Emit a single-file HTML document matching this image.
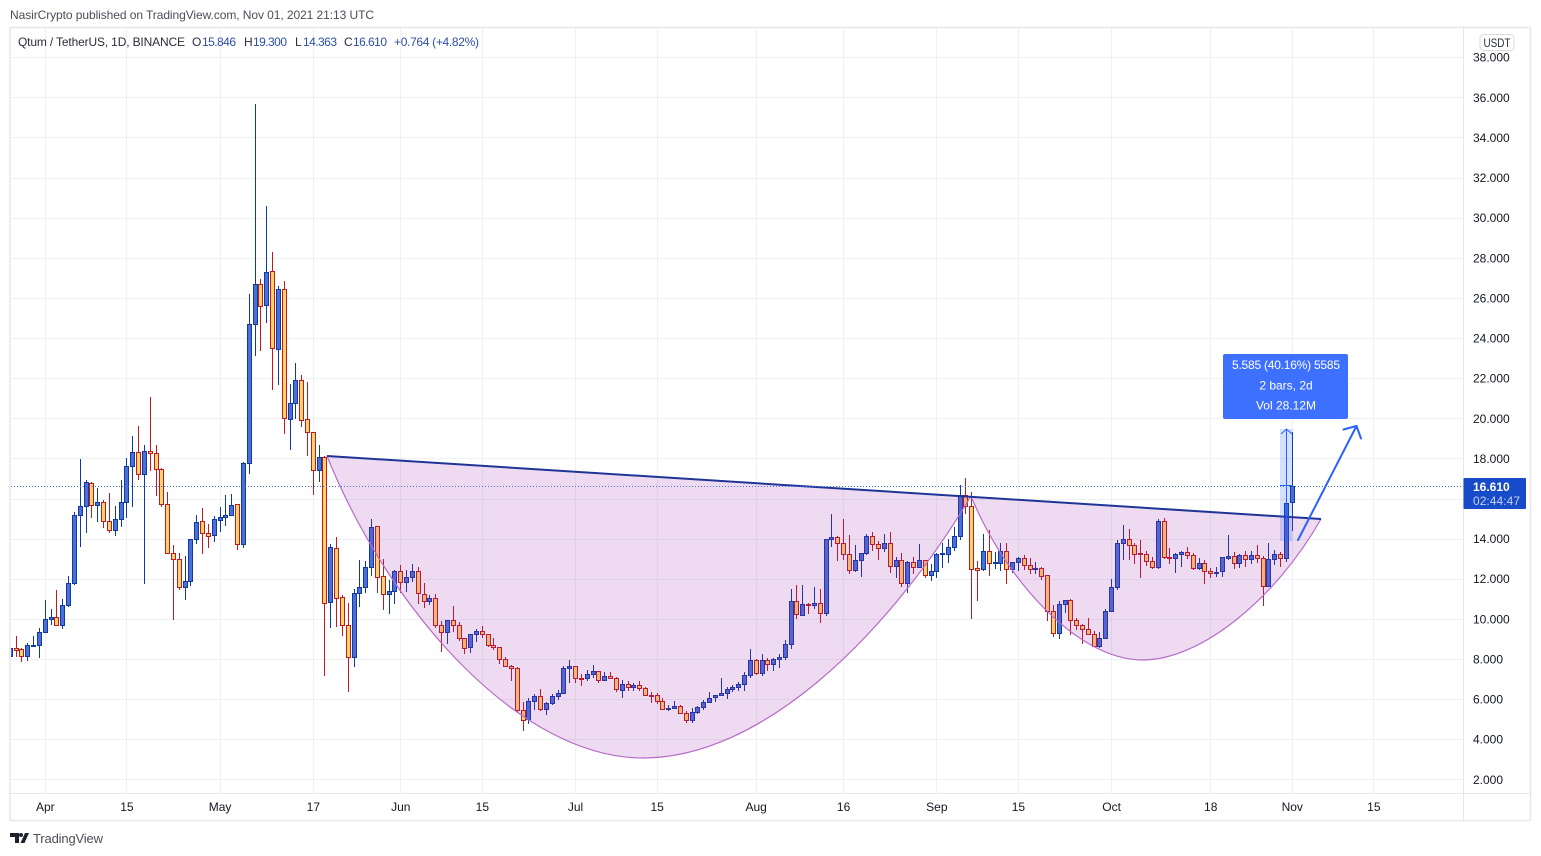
<!DOCTYPE html>
<html>
<head>
<meta charset="utf-8">
<title>QTUM/USDT chart</title>
<style>
html,body{margin:0;padding:0;background:#fff;width:1541px;height:856px;overflow:hidden}
svg{display:block}
text{font-family:"Liberation Sans",sans-serif;font-size:12px;fill:#131722}
</style>
</head>
<body>
<svg id="chart" xmlns="http://www.w3.org/2000/svg" width="1541" height="856" viewBox="0 0 1541 856">
  <defs>
    <clipPath id="paneClip"><rect x="11" y="28" width="1452" height="765"/></clipPath>
  </defs>
  <text x="10" y="19" textLength="364" lengthAdjust="spacing" style="fill:#4a4e59">NasirCrypto published on TradingView.com, Nov 01, 2021 21:13 UTC</text>
  <g id="grid"></g>
  <g id="candles" clip-path="url(#paneClip)"></g>

  <g>
    <path d="M327 456 C390 612 520 758 643 758 C760 758 885 640 971 496 L327 456 Z" fill="rgba(156,39,176,0.17)"/>
    <path d="M971 496 C1003 575 1075 660 1143 660 C1200 660 1275 600 1321 519 L971 496 Z" fill="rgba(156,39,176,0.17)"/>
    <path d="M327 456 C390 612 520 758 643 758 C760 758 885 640 971 496" fill="none" stroke="#b76bc8" stroke-width="1.2"/>
    <path d="M971 496 C1003 575 1075 660 1143 660 C1200 660 1275 600 1321 519" fill="none" stroke="#b76bc8" stroke-width="1.2"/>
    <line x1="327" y1="456" x2="1321" y2="519" stroke="#1f3596" stroke-width="2"/>
  </g>

  <g>
    <rect x="1280" y="429" width="12.5" height="112" fill="rgba(41,98,255,0.2)"/>
    <line x1="1286.5" y1="541" x2="1286.5" y2="429" stroke="#2962ff" stroke-width="1"/>
    <path d="M1281 434 L1286.5 429 L1292 434" fill="none" stroke="#2962ff" stroke-width="1"/>
    <line x1="1280" y1="485.5" x2="1292" y2="485.5" stroke="#2962ff" stroke-width="1"/>
    <rect x="1223" y="354" width="125" height="65" rx="2" fill="#3e70ff"/>
    <text x="1232" y="369" textLength="108" lengthAdjust="spacing" style="fill:#fff">5.585 (40.16%) 5585</text>
    <text x="1286" y="389.500" text-anchor="middle" style="fill:#fff">2 bars, 2d</text>
    <text x="1286" y="409.500" text-anchor="middle" style="fill:#fff">Vol 28.12M</text>
  </g>

  <g stroke="#2962ff" stroke-width="2" fill="none" stroke-linecap="round">
    <line x1="1298" y1="540" x2="1356.500" y2="426"/>
    <path d="M1343.500 429.500 L1356.500 426 L1361 438.500"/>
  </g>

  <g fill="none" stroke="#e6e8ef">
    <rect x="10" y="27.500" width="1520.500" height="793" stroke-width="1.500"/>
    <line x1="1463.500" y1="27" x2="1463.500" y2="821" stroke-width="1"/>
    <line x1="10" y1="793.500" x2="1531" y2="793.500" stroke-width="1"/>
  </g>

  <g id="priceLabels"></g>
  <g id="timeLabels"></g>

  <line id="lastPriceLine" x1="11" x2="1463" stroke="#3f6fe0" stroke-width="1" stroke-dasharray="1 2"/>
  <g>
    <rect x="1463.500" y="478" width="62.500" height="31" rx="1" fill="#174bc9"/>
    <text x="1473" y="491" style="fill:#fff;font-weight:bold">16.610</text>
    <text x="1473" y="505" textLength="47" lengthAdjust="spacing" style="fill:#c3d2f5">02:44:47</text>
  </g>

  <g>
    <rect x="1480" y="34.500" width="34" height="16" rx="4" fill="#fff" stroke="#d9dbe2"/>
    <text x="1483.500" y="47" textLength="27" lengthAdjust="spacingAndGlyphs" style="fill:#2a2e39">USDT</text>
  </g>

  <g>
    <text x="18" y="46" textLength="167" lengthAdjust="spacing" style="fill:#2a2e39">Qtum / TetherUS, 1D, BINANCE</text>
    <text x="192" y="46" style="fill:#2a2e39">O</text>
    <text x="202" y="46" textLength="34" lengthAdjust="spacing" style="fill:#2c4fa8">15.846</text>
    <text x="244" y="46" style="fill:#2a2e39">H</text>
    <text x="253" y="46" textLength="34" lengthAdjust="spacing" style="fill:#2c4fa8">19.300</text>
    <text x="295" y="46" style="fill:#2a2e39">L</text>
    <text x="303" y="46" textLength="34" lengthAdjust="spacing" style="fill:#2c4fa8">14.363</text>
    <text x="344" y="46" style="fill:#2a2e39">C</text>
    <text x="353" y="46" textLength="34" lengthAdjust="spacing" style="fill:#2c4fa8">16.610</text>
    <text x="394" y="46" textLength="85" lengthAdjust="spacing" style="fill:#2c4fa8">+0.764 (+4.82%)</text>
  </g>

  <g>
    <path fill="#1e222d" d="M10 833h9v10h-4v-6h-5zM21 833a2 2 0 1 1 0 4a2 2 0 1 1 0-4zM25 833h4l-4.500 10h-4z"/>
    <text x="33" y="843" textLength="70" lengthAdjust="spacing" style="font-size:13px;fill:#4a4e59">TradingView</text>
  </g>
</svg>
<script>
const firstDay = -6; // trading days relative to Apr 1
const opens = [8.15,8.55,8.50,8.15,8.68,8.7,
9.35,10,10.1,9.7,10.7,11.8,15.2,15.65,16.75,15.7,
15.85,14.9,14.45,15,15.85,17.6,18.3,17.2,18.35,18.25,
17.45,15.75,13.3,13,11.6,11.9,14,14.9,14.3,14.2,
14.95,15.1,15.2,15.75,13.75,17.75,24.7,26.7,25.65,27.35,
23.45,26.45,19.95,20.75,21.9,19.95,19.3,17.4,18.05,10.85,
13.55,11.1,9.7,8.1,11.3,11.6,12.6,14.65,12.15,11.25,
11.4,12.4,11.85,12.1,12.4,11.25,10.9,11.05,9.7,9.35,
9.95,9.7,9.05,8.6,9.25,9.4,9.25,8.7,8.6,8,
7.65,7.55,5.45,5,5.9,6.15,5.5,5.8,6.15,6.3,
7.55,7.65,7.06,7.05,7.25,7.4,6.95,7.15,7.05,6.45,
6.75,6.6,6.7,6.55,6.21,6.2,5.9,5.5,5.55,5.65,
5.3,4.95,5.35,5.6,5.85,6.1,6.2,6.3,6.5,6.6,
6.75,7.2,7.95,7.3,7.95,7.75,8,8.1,8.75,10.9,
10.2,10.75,10.7,10.8,10.3,14,14.1,13.8,13.25,12.45,
12.95,13.3,14.15,13.75,13.55,13.8,12.65,12.95,11.8,12.85,
12.6,12.95,12.2,12.4,13.24,13.25,13.6,14.15,16.15,15.65,
12.55,12.5,13.4,12.79,12.8,13.4,12.5,12.85,13.05,12.7,
12.5,12.55,12.2,10.4,9.3,10.75,10.95,9.95,9.7,9.5,
9.25,8.65,9.05,10.4,11.6,13.8,14,13.7,13.26,13.25,
12.9,12.6,14.9,13.06,13.05,13.25,13.35,13.2,12.55,12.8,
12.4,12.3,12.4,13.05,13.15,12.8,13.2,13,13.2,13.05,
11.65,13,13.25,13.05,15.846];
const highs = [9.47,9.15,8.57,8.8,9.15,9.55,
10.92,10.47,11.42,11,12.12,15.32,17.97,16.92,16.8,16.52,
15.92,16.27,15.62,16.92,18,19.12,19.62,18.67,21.07,18.67,
17.5,16.32,13.67,13.27,13.12,14,15.2,15.52,14.72,15.15,
15.57,16.17,16.22,15.75,17.82,26.17,35.67,26.95,30.57,28.27,
26.6,26.82,21.7,22.77,22.17,21.82,19.3,18.67,18.1,13.72,
14.07,11.17,10.77,11.47,12.92,12.87,14.97,14.65,12.97,11.92,
12.45,12.67,12.42,12.75,12.6,11.77,11.2,11.25,9.9,9.95,
10.65,9.85,9.05,9.25,9.5,9.62,9.25,9.05,8.6,8.1,
7.7,7.6,5.85,6.05,6.25,6.5,5.85,6.25,6.45,7.65,
7.95,7.65,7.25,7.45,7.7,7.4,7.35,7.35,7.1,6.95,
6.9,6.82,6.9,6.6,6.34,6.3,6.05,5.7,5.89,5.7,
5.4,5.55,5.67,5.95,6.37,6.2,7.07,6.6,6.7,6.85,
7.35,8.5,8,8.27,8.05,8.05,8.25,8.97,11.5,11.67,
11.67,10.8,11.57,11.47,14,15.22,14.15,14.97,14.17,13.67,
13.3,14.22,14.32,13.9,14.22,14.32,13.07,13.27,12.9,13.1,
13.75,12.95,12.75,13.3,13.8,14,14.57,16.67,17,16.3,
12.9,14.25,14.42,13.35,13.8,13.8,12.85,13.1,13.2,13.05,
12.85,12.6,12.2,10.7,10.9,10.95,11,10.05,9.75,10.02,
9.4,9.35,10.5,12,13.95,14.7,14.5,13.8,13.95,13.4,
13.1,15,15.05,13.55,13.3,13.4,13.57,13.3,13.05,12.95,
12.55,12.6,13.1,14.17,13.35,13.25,13.4,13.4,13.67,13.12,
13.77,13.42,13.35,16.42,19.3];
const lows = [8.09,8.09,7.84,7.89,8.59,8.04,
9.35,9.7,9.64,9.49,10.59,11.69,13.59,14.29,15.02,14.84,
14.54,14.29,14.14,14.59,15.02,15.59,16.92,11.74,17.37,16.12,
15.59,13.24,9.92,11.42,10.92,11.64,13.74,13.24,13.54,13.84,
14.34,14.64,15.14,13.44,13.54,17.24,23.08,23.33,24.73,21.43,
21.68,19.23,18.4,19.97,19.54,18.14,16.17,16.82,7.17,9.54,
9.59,9.14,6.34,7.58,10.59,11.29,12.12,11.29,10.44,10.24,
10.74,11.3,11.34,11.84,10.74,10.54,10.69,9.54,8.34,8.74,
9.34,8.89,8.24,8.29,8.84,9.04,8.59,8.44,7.74,7.64,
6.89,5.34,4.39,4.74,5.47,5.39,5.19,5.7,5.94,6.24,
6.79,6.79,6.64,6.89,7.04,6.79,6.95,7,6.34,6.04,
6.39,6.39,6.39,6.14,5.79,5.75,5.5,5.39,5.5,5.24,
4.79,4.79,5.24,5.44,5.8,5.84,6.14,5.99,6.34,6.39,
6.39,7.04,7.19,7.14,7.39,7.42,7.54,7.94,8.52,9.97,
10.2,10.22,10.47,9.77,10.14,13.57,12.87,12.92,12.24,12.34,
12.07,13.19,13.37,12.92,13.34,12.27,12.02,11.59,11.27,12.25,
12.52,12.04,11.89,12.04,12.54,12.79,13.37,13.94,15.24,10,
10.87,12.39,12.14,12.5,12.39,11.72,12.3,12.4,12.44,12.22,
12.22,11.94,9.89,9.09,8.99,10.3,9.19,9.44,8.74,9.25,
8.59,8.54,8.99,10.4,11.44,12.94,12.92,12.72,12.04,12.62,
12.5,12.5,13,12.74,12.3,12.59,13,12.45,12.42,11.74,
12.05,12.09,12.09,12.95,12.5,12.55,12.59,12.75,12.8,10.64,
11.59,12.7,12.59,12.84,14.363];
const closes = [8.55,8.45,8.15,8.7,8.7,9.35,
10,10.1,9.7,10.7,11.8,15.2,15.65,16.8,15.7,15.85,
14.9,14.45,15,15.85,17.6,18.3,17.2,18.35,18.25,17.45,
15.75,13.3,13,11.6,11.9,14,14.85,14.3,14.15,15,
15.1,15.2,15.7,13.75,17.75,24.7,26.7,25.6,27.3,23.5,
26.45,20,20.75,21.9,19.9,19.3,17.4,18.05,10.8,13.6,
11.05,9.7,8.1,11.3,11.6,12.6,14.6,12.1,11.25,11.4,
12.4,11.85,12.1,12.4,11.3,10.9,11.05,9.7,9.35,9.95,
9.7,9.05,8.55,9.25,9.4,9.25,8.7,8.6,8,7.65,
7.55,5.45,4.95,5.9,6.15,5.5,5.8,6.15,6.3,7.55,
7.65,7.05,7.04,7.25,7.4,6.95,7.15,7.05,6.5,6.75,
6.6,6.7,6.55,6.2,6.19,5.9,5.5,5.55,5.65,5.3,
4.95,5.35,5.6,5.85,6.05,6.2,6.3,6.5,6.6,6.75,
7.2,7.95,7.3,7.95,7.75,8,8.1,8.75,10.9,10.25,
10.75,10.7,10.8,10.3,14,14.1,13.8,13.25,12.45,12.95,
13.3,14.15,13.75,13.55,13.8,12.65,12.95,11.8,12.85,12.6,
12.95,12.2,12.4,13.25,13.26,13.6,14.15,16.15,15.65,12.5,
12.45,13.4,12.8,12.81,13.4,12.5,12.85,13.05,12.7,12.5,
12.55,12.15,10.4,9.3,10.75,10.95,9.95,9.7,9.5,9.25,
8.65,9.05,10.4,11.6,13.8,14,13.7,13.25,13.24,12.9,
12.6,14.9,13.1,13.04,13.25,13.35,13.2,12.55,12.8,12.4,
12.3,12.35,13.1,13.15,12.8,13.2,13,13.2,13.05,11.65,
13,13.25,13.05,15.8,16.61];
const priceTicks = [2,4,6,8,10,12,14,16,18,20,22,24,26,28,30,32,34,36,38];
const timeTickDays = [0,14,30,46,61,75,91,105,122,137,153,167,183,200,214,228];
const timeTickLabels = ["Apr","15","May","17","Jun","15","Jul","15","Aug","16","Sep","15","Oct","18","Nov","15"];
const lastPrice = 16.61;

const NS = 'http://www.w3.org/2000/svg';
function xScale(day){ return 45.3 + 5.827 * day; }
function yScale(price){ return 97.3 + (36 - price) * 20.06; }
function make(tag, attrs, parent){
  const el = document.createElementNS(NS, tag);
  for (const k in attrs) el.setAttribute(k, attrs[k]);
  parent.appendChild(el);
  return el;
}
const gridG = document.getElementById('grid');
const candleG = document.getElementById('candles');
const priceG = document.getElementById('priceLabels');
const timeG = document.getElementById('timeLabels');

priceTicks.forEach(function(p){
  const y = Math.round(yScale(p)) + 0.5;
  if (y > 30) {
    const gl = make('line', {x1:11, x2:1463, y1:y, y2:y, stroke:'#f0f1f4', 'stroke-width':1.2}, gridG);
    
    
  }
  const t = make('text', {x:1473, y:yScale(p)+4.5}, priceG);
  t.textContent = p.toFixed(3);
  t.style.fill = '#131722';
  
  
});
timeTickDays.forEach(function(d, i){
  const x = Math.round(xScale(d) - 0.5) + 0.5;
  const gl = make('line', {x1:x, x2:x, y1:28, y2:793, stroke:'#f0f1f4', 'stroke-width':1.2}, gridG);
  
  
  const t = make('text', {x:xScale(d), y:811, 'text-anchor':'middle'}, timeG);
  t.textContent = timeTickLabels[i];
  t.style.fill = '#131722';
  
  
});

closes.forEach(function(c, i){
  const o = opens[i], h = highs[i], l = lows[i];
  const up = c >= o;
  const edge = up ? '#0f3aa3' : '#c2181f';
  const fill = up ? '#4a6fd8' : '#ffd36c';
  const x = Math.round(xScale(i + firstDay) - 0.5) + 0.5;
  const g = make('g', {}, candleG);
  
  
  const wick = make('line', {x1:x, x2:x, y1:Math.round(yScale(h)), y2:Math.round(yScale(l)), stroke:edge, 'stroke-width':1}, g);
  
  
  const top = Math.round(yScale(Math.max(o, c))) + 0.5;
  const bot = Math.max(Math.round(yScale(Math.min(o, c))) + 0.5, top + 1);
  const body = make('rect', {x:x - 2, y:top, width:4, height:bot - top, fill:fill, stroke:edge, 'stroke-width':1}, g);
  
  
});

const lp = document.getElementById('lastPriceLine');
lp.setAttribute('y1', Math.round(yScale(lastPrice)) + 0.5);
lp.setAttribute('y2', Math.round(yScale(lastPrice)) + 0.5);
</script>
</body>
</html>
